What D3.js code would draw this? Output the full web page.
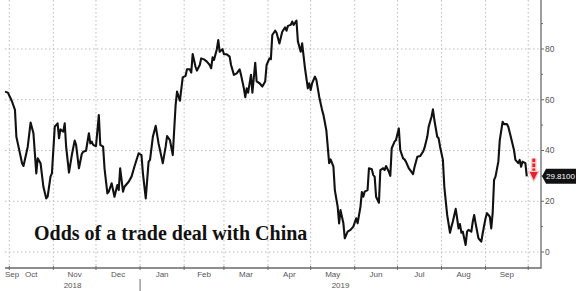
<!DOCTYPE html>
<html>
<head>
<meta charset="utf-8">
<script src="https://cdnjs.cloudflare.com/ajax/libs/d3/7.8.5/d3.min.js"></script>
<style>
  body { margin: 0; background: #fff; }
  svg { display: block; }
  .grid line { stroke: #bcbcbc; stroke-width: 1; stroke-dasharray: 1.5,2.5; }
  .axis-line { stroke: #6a6a6a; stroke-width: 1.3; fill: none; }
  .tick-mark { stroke: #6a6a6a; stroke-width: 1; }
  .axis-label { font-family: "Liberation Sans", Arial, sans-serif; font-size: 8px; fill: #555; }
  .y-label { font-size: 8.5px; }
  .series { fill: none; stroke: #111; stroke-width: 2.1; stroke-linejoin: round; }
  .title { font-family: "Liberation Serif", "Times New Roman", serif; font-weight: bold; font-size: 20px; fill: #111; }
  .last-label { font-family: "Liberation Sans", Arial, sans-serif; font-size: 8px; fill: #fff; }
</style>
</head>
<body>
<svg id="chart" width="580" height="291"></svg>
<script>
// data
const dates = [
  '2018-09-28','2018-09-30','2018-10-02','2018-10-03','2018-10-05','2018-10-06','2018-10-07','2018-10-10','2018-10-11','2018-10-13','2018-10-14','2018-10-16','2018-10-18','2018-10-20','2018-10-21','2018-10-23','2018-10-25','2018-10-27','2018-10-28','2018-10-30','2018-10-31',
  '2018-11-02','2018-11-04','2018-11-05','2018-11-06','2018-11-08','2018-11-09','2018-11-10','2018-11-12','2018-11-14','2018-11-16','2018-11-17','2018-11-19','2018-11-21','2018-11-22','2018-11-24','2018-11-26','2018-11-27','2018-11-28','2018-11-29',
  '2018-12-01','2018-12-03','2018-12-04','2018-12-06','2018-12-07','2018-12-09','2018-12-10','2018-12-12','2018-12-14','2018-12-16','2018-12-17','2018-12-18','2018-12-20','2018-12-21','2018-12-24','2018-12-26','2018-12-28','2018-12-31',
  '2019-01-02','2019-01-03','2019-01-05','2019-01-07','2019-01-08','2019-01-10','2019-01-12','2019-01-14','2019-01-17','2019-01-19','2019-01-20','2019-01-22','2019-01-24','2019-01-26','2019-01-27','2019-01-29','2019-01-31',
  '2019-02-02','2019-02-03','2019-02-05','2019-02-06','2019-02-07','2019-02-09','2019-02-10','2019-02-12','2019-02-13','2019-02-15','2019-02-17','2019-02-19','2019-02-20','2019-02-21','2019-02-22','2019-02-24','2019-02-25','2019-02-26','2019-02-28',
  '2019-03-01','2019-03-03','2019-03-05','2019-03-06','2019-03-08','2019-03-10','2019-03-12','2019-03-13','2019-03-15','2019-03-16','2019-03-17','2019-03-18','2019-03-20','2019-03-21','2019-03-23','2019-03-24','2019-03-26','2019-03-28','2019-03-30','2019-03-31',
  '2019-04-02','2019-04-03','2019-04-04','2019-04-06','2019-04-07','2019-04-09','2019-04-11','2019-04-13','2019-04-14','2019-04-15','2019-04-17','2019-04-18','2019-04-19','2019-04-21','2019-04-22','2019-04-24','2019-04-25','2019-04-27','2019-04-29','2019-04-30',
  '2019-05-01','2019-05-02','2019-05-04','2019-05-05','2019-05-07','2019-05-09','2019-05-10','2019-05-12','2019-05-14','2019-05-15','2019-05-17','2019-05-18','2019-05-20','2019-05-21','2019-05-22','2019-05-24','2019-05-25','2019-05-27','2019-05-29','2019-05-31',
  '2019-06-02','2019-06-03','2019-06-05','2019-06-06','2019-06-07','2019-06-08','2019-06-10','2019-06-11','2019-06-13','2019-06-14','2019-06-15','2019-06-16','2019-06-18','2019-06-19','2019-06-21','2019-06-22','2019-06-23','2019-06-25','2019-06-26','2019-06-27','2019-06-29','2019-06-30',
  '2019-07-02','2019-07-03','2019-07-05','2019-07-06','2019-07-07','2019-07-09','2019-07-10','2019-07-12','2019-07-13','2019-07-15','2019-07-17','2019-07-19','2019-07-20','2019-07-22','2019-07-23','2019-07-25','2019-07-26','2019-07-27','2019-07-29','2019-07-30','2019-07-31',
  '2019-08-02','2019-08-03','2019-08-05','2019-08-07','2019-08-08','2019-08-09','2019-08-11','2019-08-12','2019-08-13','2019-08-14','2019-08-15','2019-08-16','2019-08-18','2019-08-19','2019-08-20','2019-08-22','2019-08-23','2019-08-24','2019-08-25','2019-08-27','2019-08-29','2019-08-30',
  '2019-09-01','2019-09-02','2019-09-04','2019-09-05','2019-09-06','2019-09-07','2019-09-08','2019-09-10','2019-09-11','2019-09-13','2019-09-14','2019-09-16','2019-09-17','2019-09-19','2019-09-21','2019-09-22','2019-09-24','2019-09-25','2019-09-26','2019-09-27','2019-09-29','2019-09-30'
]
const odds = [
  63.2,62.8,60.5,59.2,56,45.4,42.8,35,33.9,38.9,41.5,51,46.8,31,36.9,35,25.7,21.1,21.8,29.7,31,
  49.4,50.7,44.8,48.3,47.4,50.7,41.5,31.3,38.2,43.9,42.2,33,38.6,39.5,39.9,46.8,42.8,43.5,42.2,
  41.7,54,42.2,41.5,33,23.1,23.8,27.1,21.8,26.4,24.4,33,23.8,25.7,27.7,29.7,33.6,38.9,
  38.2,31,21.1,35.6,36.3,45.4,49.7,42.8,35,41.5,45.7,44.1,38.2,57.9,63.2,59.6,68.8,
  69.4,72,72,70.7,78,73,71.5,73.7,76.3,75.9,75,73.7,72.4,76.7,75.7,79.9,83.5,78.9,79.9,
  77.9,77.9,77,73.7,69.8,70.4,72,69.8,64.5,61,64.5,62.8,69.8,62.8,74.6,67.2,66.5,65.2,67.2,73.7,
  76.3,76,85.5,87.2,86.4,82.2,86.8,88.5,87.2,89.1,89.5,90.8,89.5,91.2,83,78.9,82.2,72.4,64.5,66.5,
  63.8,66.5,69.1,67.8,61.2,56,54,48,35,36.5,33.6,24.4,17.8,11.3,16.5,11.3,5.4,8,8.7,10,
  13.3,11.3,17.8,23.6,21.8,23.8,24.4,33,32.6,30.3,29.7,21.8,19.4,32.3,33,32.3,33.9,31.6,30,40.9,43.5,44.1,
  48.7,40.2,36.9,36.5,35.6,33,32.3,30.7,33.4,37.5,37.8,39.5,40.9,45.4,49.4,53.3,56.2,52,45.4,44.8,41.5,
  36.3,25.7,14.6,7.6,10,12,17,13.3,9.3,11,7.6,8,2.8,8,8.7,8,11.9,14.6,11.3,5.4,4.1,7.4,
  13.3,15.3,13.9,9.3,15.3,28.4,29.7,35.6,44.1,51.3,50.4,50.4,49.4,44.8,40.2,36.3,35,36.3,33.6,35.6,35,29.81
]
const monthLabels = ['Sep','Oct','Nov','Dec','Jan','Feb','Mar','Apr','May','Jun','Jul','Aug','Sep']
const yearLabels = ['2018','2019']
const yTicks = [0,20,40,60,80]
const yMinorTicks = [10,30,50,70,90]
const lastLabel = '29.8100'
const title = 'Odds of a trade deal with China'

//consts
const
  plotLeft = 5,
  plotRight = 541,
  plotTop = 0,
  plotBottom = 268

const parse = d3.timeParse('%Y-%m-%d')
const series = dates.map((d, i) => ({date: parse(d), value: odds[i]}))

const x = d3.scaleTime()
  .domain([parse('2018-09-28'), parse('2019-10-10')])
  .range([plotLeft, plotRight])
const y = d3.scaleLinear()
  .domain([-6.3, 99.3])
  .range([plotBottom, plotTop])

const svg = d3.select('#chart')

//month boundaries
const monthStarts = d3.timeMonth.range(parse('2018-09-01'), parse('2019-10-02'))
const visibleStarts = monthStarts.filter(d => d >= x.domain()[0])

//grid
const grid = svg.append('g').attr('class', 'grid')
grid.selectAll('.hgrid')
  .data(yTicks)
  .enter()
  .append('line')
  .attr('x1', plotLeft).attr('x2', plotRight)
  .attr('y1', d => y(d)).attr('y2', d => y(d))
grid.selectAll('.vgrid')
  .data(visibleStarts)
  .enter()
  .append('line')
  .attr('x1', d => x(d)).attr('x2', d => x(d))
  .attr('y1', plotTop).attr('y2', plotBottom)

//axes lines
svg.append('path')
  .attr('class', 'axis-line')
  .attr('d', `M${plotLeft},${plotBottom}H${plotRight}V${plotTop}`)

//x ticks
svg.selectAll('.xtick')
  .data(visibleStarts)
  .enter()
  .append('line')
  .attr('class', 'tick-mark')
  .attr('x1', d => x(d)).attr('x2', d => x(d))
  .attr('y1', plotBottom - 2).attr('y2', plotBottom + 2)

//month labels, centered in each month
svg.selectAll('.month')
  .data(monthStarts)
  .enter()
  .append('text')
  .attr('class', 'axis-label')
  .attr('text-anchor', 'middle')
  .attr('x', d => {
    const a = Math.max(x(d), plotLeft)
    const b = Math.min(x(d3.timeMonth.offset(d, 1)), plotRight)
    return Math.max((a + b) / 2, 12)
  })
  .attr('y', 277)
  .text((d, i) => monthLabels[i])

//year labels, centered in each year span
const yearBreak = parse('2019-01-01')
const yearSpans = [[plotLeft, x(yearBreak)], [x(yearBreak), plotRight]]
svg.selectAll('.year')
  .data(yearSpans)
  .enter()
  .append('text')
  .attr('class', 'axis-label')
  .attr('text-anchor', 'middle')
  .attr('x', d => (d[0] + d[1]) / 2)
  .attr('y', 288)
  .text((d, i) => yearLabels[i])
svg.append('line')
  .attr('class', 'tick-mark')
  .attr('x1', x(yearBreak)).attr('x2', x(yearBreak))
  .attr('y1', 279).attr('y2', 291)

//y ticks
svg.selectAll('.ytick')
  .data(yTicks)
  .enter()
  .append('line')
  .attr('class', 'tick-mark')
  .attr('x1', plotRight).attr('x2', plotRight + 3)
  .attr('y1', d => y(d)).attr('y2', d => y(d))
svg.selectAll('.yminor')
  .data(yMinorTicks)
  .enter()
  .append('line')
  .attr('class', 'tick-mark')
  .attr('x1', plotRight).attr('x2', plotRight + 2)
  .attr('y1', d => y(d)).attr('y2', d => y(d))
svg.selectAll('.ylabel')
  .data(yTicks)
  .enter()
  .append('text')
  .attr('class', 'axis-label y-label')
  .attr('x', plotRight + 4)
  .attr('y', d => y(d))
  .attr('dy', '0.35em')
  .text(d => d)

//series
const line = d3.line()
  .x(d => x(d.date))
  .y(d => y(d.value))
svg.append('path')
  .datum(series)
  .attr('class', 'series')
  .attr('d', line)

//title
svg.append('text')
  .attr('class', 'title')
  .attr('x', 34)
  .attr('y', 240)
  .text(title)

//red arrow at the last point
const last = series[series.length - 1]
const ax = x(last.date) + 7
svg.append('line')
  .attr('x1', ax).attr('x2', ax)
  .attr('y1', y(last.value + 7)).attr('y2', y(last.value + 2))
  .attr('stroke', '#f9c4c6').attr('stroke-width', 5.5)
svg.append('line')
  .attr('x1', ax).attr('x2', ax)
  .attr('y1', y(last.value + 7)).attr('y2', y(last.value + 2))
  .attr('stroke', '#e3222c').attr('stroke-width', 2.8)
  .attr('stroke-dasharray', '3.5,1.5')
svg.append('path')
  .attr('d', `M${ax - 5},${y(last.value + 2)}L${ax + 5},${y(last.value + 2)}L${ax},${y(last.value - 2)}Z`)
  .attr('fill', '#e3222c')
  .attr('stroke', '#f9c4c6')
  .attr('stroke-width', 1.2)

//last value box
const ly = y(last.value)
svg.append('path')
  .attr('d', `M${plotRight + 1},${ly}L${plotRight + 5},${ly - 7.5}H${plotRight + 35}V${ly + 7.5}H${plotRight + 5}Z`)
  .attr('fill', '#111')
svg.append('text')
  .attr('class', 'last-label')
  .attr('x', plotRight + 5)
  .attr('y', ly)
  .attr('dy', '0.35em')
  .text(lastLabel)
</script>
</body>
</html>
